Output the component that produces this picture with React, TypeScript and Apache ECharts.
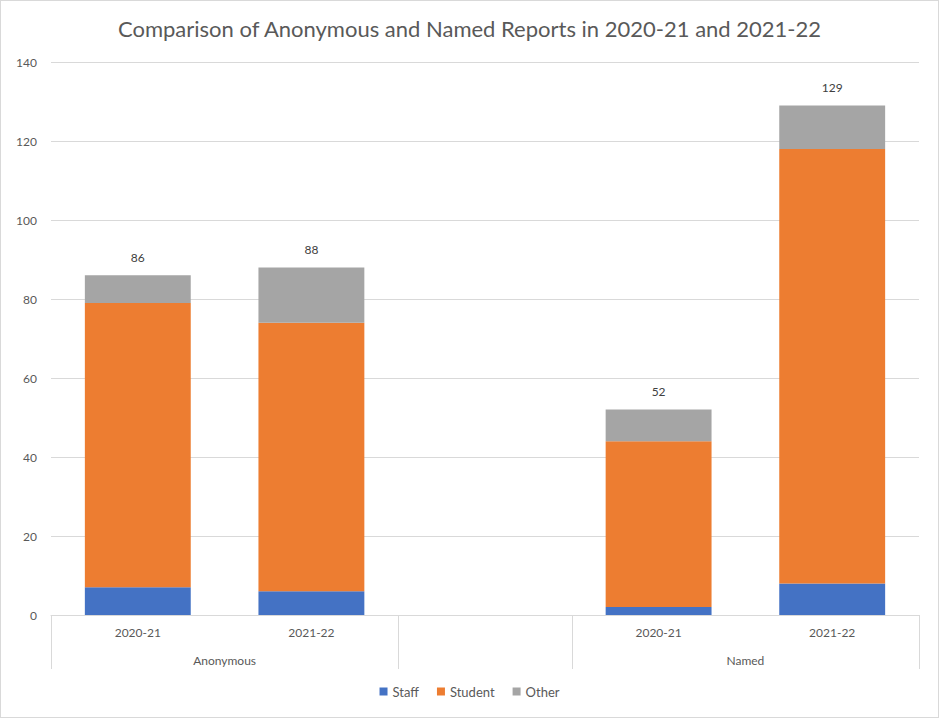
import React, { useEffect, useRef } from "react";
import * as echarts from "echarts";

const categories = ["2020-21", "2021-22", "", "2020-21", "2021-22"];
const groupLabels = ["Anonymous", "Named"];
const staff = [7, 6, null, 2, 8];
const student = [72, 68, null, 42, 110];
const other = [7, 14, null, 8, 11];
const yTicks = { min: 0, max: 140, interval: 20 };

const FONT = "Lato, 'Noto Sans', sans-serif";
const TEXT = "#595959";
const GRID = "#d9d9d9";

export default function App() {
  const ref = useRef<HTMLDivElement>(null);
  useEffect(() => {
    if (!ref.current) return;
    const chart = echarts.init(ref.current, null, { renderer: "svg" });
    const totals = categories.map((_, i) =>
      (staff[i] ?? 0) + (student[i] ?? 0) + (other[i] ?? 0)
    );
    chart.setOption({
      animation: false,
      textStyle: { fontFamily: FONT },
      title: {
        text: "Comparison of Anonymous and Named Reports in 2020-21 and 2021-22",
        left: "center",
        top: 11,
        textStyle: { fontFamily: FONT, fontSize: 22, fontWeight: "normal", color: TEXT },
      },
      legend: {
        bottom: 14,
        left: "center",
        itemWidth: 8,
        itemHeight: 8,
        itemGap: 18,
        icon: "rect",
        textStyle: { fontFamily: FONT, fontSize: 13, color: TEXT },
        data: ["Staff", "Student", "Other"],
      },
      grid: { left: 50, right: 19, top: 61, bottom: 102, containLabel: false },
      xAxis: [
        {
          type: "category",
          data: categories,
          position: "bottom",
          axisLine: { show: true, lineStyle: { color: GRID } },
          axisTick: { show: false },
          axisLabel: { color: TEXT, fontSize: 12, fontFamily: FONT, margin: 11 },
        },
        {
          type: "value",
          min: 0,
          max: categories.length,
          position: "bottom",
          axisLine: { show: false },
          splitLine: { show: false },
          axisTick: {
            show: true,
            customValues: [0, 2, 3, 5],
            length: 54,
            lineStyle: { color: GRID },
          },
          axisLabel: {
            customValues: [1, 4],
            color: TEXT,
            fontSize: 12,
            fontFamily: FONT,
            margin: 39,
            formatter: (v: number) => (v === 1 ? groupLabels[0] : v === 4 ? groupLabels[1] : ""),
          },
        },
      ],
      yAxis: {
        type: "value",
        min: yTicks.min,
        max: yTicks.max,
        interval: yTicks.interval,
        axisLine: { show: false },
        axisTick: { show: false },
        splitLine: { lineStyle: { color: GRID } },
        axisLabel: { color: TEXT, fontSize: 12, fontFamily: FONT, margin: 14 },
      },
      series: [
        {
          name: "Staff",
          type: "bar",
          stack: "total",
          barWidth: "61%",
          data: staff,
          itemStyle: { color: "#4472C4" },
        },
        {
          name: "Student",
          type: "bar",
          stack: "total",
          data: student,
          itemStyle: { color: "#ED7D31" },
        },
        {
          name: "Other",
          type: "bar",
          stack: "total",
          data: other,
          itemStyle: { color: "#A5A5A5" },
          label: {
            show: true,
            position: "top",
            distance: 12,
            color: "#404040",
            fontSize: 12,
            fontFamily: FONT,
            formatter: (p: any) => String(totals[p.dataIndex]),
          },
        },
      ],
    });
    return () => chart.dispose();
  }, []);
  return (
    <div
      ref={ref}
      style={{
        position: "absolute",
        left: 0,
        top: 0,
        width: 939,
        height: 718,
        boxSizing: "border-box",
        border: "1px solid #d9d9d9",
        background: "#fff",
      }}
    />
  );
}
